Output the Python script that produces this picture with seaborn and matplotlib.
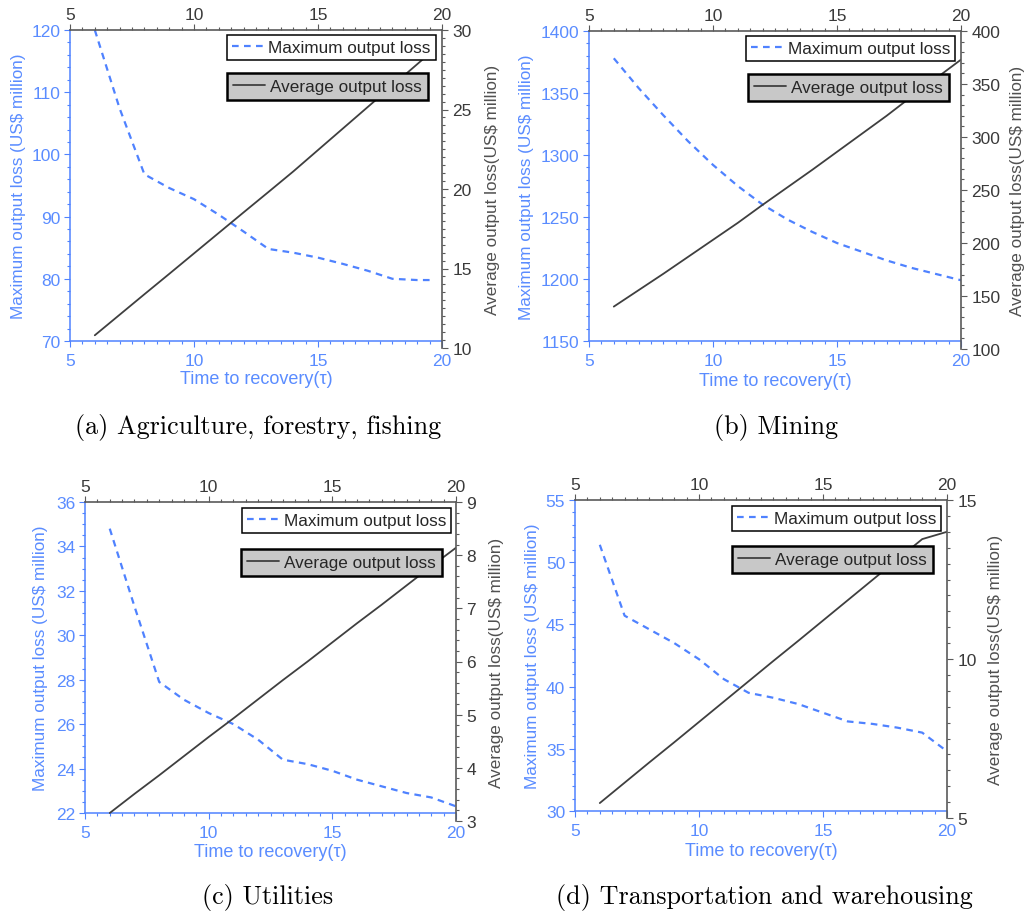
import matplotlib
matplotlib.use("Agg")
import matplotlib.pyplot as plt
from matplotlib.ticker import MultipleLocator
from matplotlib.lines import Line2D
import seaborn as sns

# ---- data -------------------------------------------------------------
tau_agri = [6, 7, 8, 9, 10, 11, 12, 13, 14, 15, 16, 17, 18, 19, 19.7]
max_agri = [120.0, 107.4, 96.8, 94.6, 92.8, 90.3, 87.6, 84.8, 84.2, 83.4,
            82.4, 81.3, 80.0, 79.8, 79.8]
avg_agri = [10.8, 12.09, 13.38, 14.66, 15.95, 17.24, 18.53, 19.81, 21.1,
            22.45, 23.8, 25.15, 26.5, 27.85, 28.8]

tau = [6, 7, 8, 9, 10, 11, 12, 13, 14, 15, 16, 17, 18, 19, 20]
max_mining = [1378, 1354, 1332, 1311, 1292, 1275, 1260, 1248, 1238, 1229,
              1222, 1215, 1209, 1204, 1199]
avg_mining = [140, 155.5, 171, 187, 203, 219, 236, 252.5, 269, 286,
              303, 320, 338, 355.5, 373]

max_util = [34.8, 31.3, 27.9, 27.1, 26.5, 26.0, 25.3, 24.4, 24.2, 23.9,
            23.5, 23.2, 22.9, 22.7, 22.3]
avg_util = [3.15, 3.51, 3.86, 4.22, 4.58, 4.93, 5.29, 5.65, 6.00, 6.36,
            6.72, 7.07, 7.43, 7.79, 8.14]

max_trans = [51.4, 45.7, 44.6, 43.5, 42.2, 40.6, 39.5, 39.1, 38.6, 37.9,
             37.2, 37.0, 36.7, 36.3, 34.8]
avg_trans = [5.47, 6.11, 6.75, 7.38, 8.02, 8.66, 9.30, 9.94, 10.57, 11.21,
             11.85, 12.49, 13.13, 13.77, 14.0]

captions = ["(a) Agriculture, forestry, fishing", "(b) Mining",
            "(c) Utilities", "(d) Transportation and warehousing"]

x_label = "Time to recovery(\u03c4)"
left_label = "Maximum output loss (US$ million)"
right_label = "Average output loss(US$ million)"
max_name = "Maximum output loss"
avg_name = "Average output loss"

# ---- style ------------------------------------------------------------
sns.set_theme(style="white")
plt.rcParams["font.family"] = ["Liberation Sans", "DejaVu Sans"]
plt.rcParams["font.size"] = 12.5

W, H = 1024, 920
BLUE = "#4f82ff"
BLUE_TXT = "#5a8cff"
DARK = "#3f3f3f"
GRAY_AX = "#5a5a5a"
DASH = (0, (3.0, 2.4))

fig = plt.figure(figsize=(W / 100, H / 100), dpi=100)


def box(left, right, top, bottom):
    return [left / W, 1 - bottom / H, (right - left) / W, (bottom - top) / H]


panels = [
    dict(x=tau_agri, ymax=max_agri, yavg=avg_agri,
         px=(70, 442, 31, 342), bottom2=349,
         lim1=(70, 120, 10, 2), lim2=(10, 30, 5, 0.5),
         lab_l=-52, lab_r=43, lab_b=38,
         leg_max=(436, 36), leg_avg=(428, 74), cap=(258, 428)),
    dict(x=tau, ymax=max_mining, yavg=avg_mining,
         px=(589, 961, 32, 342), bottom2=350,
         lim1=(1150, 1400, 50, 10), lim2=(100, 400, 50, 10),
         lab_l=-62, lab_r=49, lab_b=40,
         leg_max=(955, 37), leg_avg=(949, 75), cap=(776, 428)),
    dict(x=tau, ymax=max_util, yavg=avg_util,
         px=(85, 456, 503, 814), bottom2=822,
         lim1=(22, 36, 2, 0.5), lim2=(3, 9, 1, 0.2),
         lab_l=-44, lab_r=33, lab_b=39,
         leg_max=(451, 509), leg_avg=(442, 550), cap=(268, 898)),
    dict(x=tau, ymax=max_trans, yavg=avg_trans,
         px=(575, 947, 501, 812), bottom2=819,
         lim1=(30, 55, 5, 1), lim2=(5, 15, 5, 0.5),
         lab_l=-43, lab_r=41, lab_b=40,
         leg_max=(941, 507), leg_avg=(933, 547), cap=(764, 898)),
]

for p, cap in zip(panels, captions):
    l, r, t, b = p["px"]
    wpx, hpx = r - l, b - t

    # blue axes: left + bottom, maximum loss
    ax1 = fig.add_axes(box(l, r, t, b))
    # gray axes: right + top, average loss
    ax2 = fig.add_axes(box(l, r, t, p["bottom2"]))
    ax2.patch.set_visible(False)

    sns.lineplot(x=p["x"], y=p["ymax"], ax=ax1, color=BLUE, lw=1.6,
                 linestyle=DASH, legend=False)
    sns.lineplot(x=p["x"], y=p["yavg"], ax=ax2, color=DARK, lw=1.3,
                 legend=False)

    lo1, hi1, maj1, min1 = p["lim1"]
    lo2, hi2, maj2, min2 = p["lim2"]
    for ax in (ax1, ax2):
        ax.set_xlim(5, 20)
        ax.xaxis.set_major_locator(MultipleLocator(5))
        ax.xaxis.set_minor_locator(MultipleLocator(0.5))
    ax1.set_ylim(lo1, hi1)
    ax1.yaxis.set_major_locator(MultipleLocator(maj1))
    ax1.yaxis.set_minor_locator(MultipleLocator(min1))
    ax2.set_ylim(lo2, hi2)
    ax2.yaxis.set_major_locator(MultipleLocator(maj2))
    ax2.yaxis.set_minor_locator(MultipleLocator(min2))

    # spines
    for s in ("top", "right"):
        ax1.spines[s].set_visible(False)
    for s in ("left", "bottom"):
        ax1.spines[s].set_color(BLUE)
        ax1.spines[s].set_linewidth(1.1)
    for s in ("left", "bottom"):
        ax2.spines[s].set_visible(False)
    for s in ("top", "right"):
        ax2.spines[s].set_visible(True)
        ax2.spines[s].set_color(GRAY_AX)
        ax2.spines[s].set_linewidth(1.2)

    ax1.tick_params(which="both", direction="out", colors=BLUE, width=0.8,
                    labelcolor=BLUE_TXT, labelsize=12.5,
                    left=True, bottom=True, top=False, right=False)
    ax1.tick_params(which="major", length=4.5)
    ax1.tick_params(which="minor", length=2.3)
    ax1.tick_params(axis="y", pad=2.5)
    ax1.tick_params(axis="x", pad=4)

    ax2.tick_params(which="both", direction="out", colors=GRAY_AX,
                    width=0.8, labelcolor="#3a3a3a", labelsize=12.5,
                    left=False, bottom=False, top=True, right=True,
                    labelleft=False, labelbottom=False,
                    labeltop=True, labelright=True)
    ax2.tick_params(which="major", length=4.5)
    ax2.tick_params(which="minor", length=2.3)
    ax2.tick_params(axis="y", pad=3)
    ax2.tick_params(axis="x", pad=1.5)

    # axis labels
    ax1.set_xlabel(x_label, color=BLUE_TXT, fontsize=13, va="center")
    ax1.xaxis.set_label_coords(0.5, -p["lab_b"] / hpx)
    ax1.set_ylabel(left_label, color=BLUE_TXT, fontsize=12.3, va="center")
    ax1.yaxis.set_label_coords(p["lab_l"] / wpx, 0.5)
    ax2.set_ylabel(right_label, color="#505050", fontsize=12.3, va="center",
                   rotation=90)
    ax2.yaxis.set_label_position("right")
    ax2.yaxis.set_label_coords(1 + p["lab_r"] / wpx, 0.5)
    ax2.set_xlabel("")

    # two separate legend boxes
    h_max = Line2D([], [], color=BLUE, lw=1.6, linestyle=DASH)
    h_avg = Line2D([], [], color=DARK, lw=1.3)
    lx, ly = p["leg_max"]
    leg1 = fig.legend([h_max], [max_name], loc="upper right",
                      bbox_to_anchor=(lx / W, 1 - ly / H),
                      bbox_transform=fig.transFigure, borderaxespad=0,
                      fancybox=False, framealpha=1, edgecolor="black",
                      facecolor="white", borderpad=0.3, handlelength=1.9,
                      handletextpad=0.25, fontsize=12.3)
    leg1.get_frame().set_linewidth(1.1)
    lx, ly = p["leg_avg"]
    leg2 = fig.legend([h_avg], [avg_name], loc="upper right",
                      bbox_to_anchor=(lx / W, 1 - ly / H),
                      bbox_transform=fig.transFigure, borderaxespad=0,
                      fancybox=False, framealpha=1, edgecolor="black",
                      facecolor="#c8c8c8", borderpad=0.35, handlelength=1.9,
                      handletextpad=0.3, fontsize=12.3)
    leg2.get_frame().set_linewidth(1.8)

    cx, cy = p["cap"]
    fig.text(cx / W, 1 - cy / H, cap, ha="center", va="center",
             fontsize=18.8, family=["cmr10", "DejaVu Serif"], color="black")

fig.savefig("out.png", dpi=100, facecolor="white")
